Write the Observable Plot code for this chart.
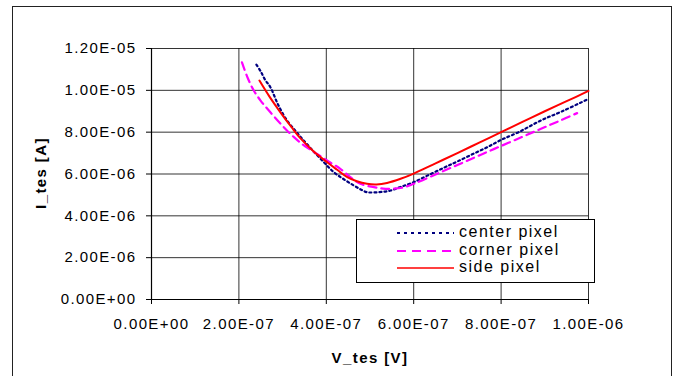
<!DOCTYPE html>
<html>
<head>
<meta charset="utf-8">
<script src="https://cdn.jsdelivr.net/npm/d3@7"></script>
<script src="https://cdn.jsdelivr.net/npm/@observablehq/plot@0.6"></script>
<style>
  html, body { margin: 0; padding: 0; background: #fff; }
  #wrap { position: relative; width: 678px; height: 376px; overflow: hidden; font-family: "Liberation Sans", Arial, sans-serif; }
  #frame { position: absolute; left: 12px; top: 6px; width: 660px; height: 400px; border: 1.5px solid #222; box-sizing: border-box; }
  #chart { position: absolute; left: 0; top: 0; }
  .title { position: absolute; font-weight: bold; font-size: 15px; letter-spacing: 1.4px; color: #000; white-space: nowrap; }
  #legend { position: absolute; left: 356px; top: 219px; width: 239px; height: 64px; border: 1px solid #000; background: #fff; box-sizing: border-box; }
  .lg { position: absolute; left: 102px; font-size: 16px; letter-spacing: 1.5px; line-height: 16px; color: #000; white-space: nowrap; }
</style>
</head>
<body>
<div id="wrap">
  <div id="frame"></div>
  <div id="chart"></div>
  <div class="title" id="ytitle" style="left:40px; top:173px; transform: translate(-50%,-50%) rotate(-90deg);">I_tes [A]</div>
  <div class="title" id="xtitle" style="left:370px; top:357px; transform: translate(-50%,-50%);">V_tes [V]</div>
  <div id="legend"></div>
</div>
<script>
// Tick values and labels
const xTicks = [0, 2e-7, 4e-7, 6e-7, 8e-7, 1e-6];
const xTickLabels = ["0.00E+00", "2.00E-07", "4.00E-07", "6.00E-07", "8.00E-07", "1.00E-06"];
const yTicks = [0, 2e-6, 4e-6, 6e-6, 8e-6, 1e-5, 1.2e-5];
const yTickLabels = ["0.00E+00", "2.00E-06", "4.00E-06", "6.00E-06", "8.00E-06", "1.00E-05", "1.20E-05"];

// Series names
const seriesNames = ["center pixel", "corner pixel", "side pixel"];

// center pixel: V (x1e-7 V), I (x1e-6 A)
const centerV = [2.40, 2.50, 2.60, 2.72, 2.90, 3.10, 3.30, 3.45, 3.70, 3.95, 4.17, 4.40, 4.63, 4.80, 4.93, 5.10, 5.30, 5.47, 5.70, 6.00, 6.30, 6.70, 7.00, 7.38, 7.70, 8.00, 8.40, 8.90, 9.40, 10.0];
const centerI = [11.23, 10.90, 10.50, 10.15, 9.30, 8.56, 8.05, 7.68, 7.10, 6.55, 6.09, 5.75, 5.45, 5.25, 5.13, 5.12, 5.15, 5.21, 5.38, 5.61, 5.91, 6.31, 6.60, 6.98, 7.30, 7.63, 8.00, 8.55, 9.00, 9.59];

// corner pixel
const cornerV = [2.07, 2.20, 2.34, 2.50, 2.72, 3.00, 3.26, 3.50, 3.79, 4.05, 4.32, 4.55, 4.78, 5.09, 5.30, 5.47, 5.75, 6.00, 6.50, 7.00, 7.50, 8.00, 8.50, 8.90, 9.30, 9.74];
const cornerI = [11.34, 10.60, 9.99, 9.50, 8.95, 8.30, 7.76, 7.35, 6.96, 6.60, 6.25, 5.85, 5.53, 5.37, 5.30, 5.29, 5.35, 5.53, 5.98, 6.43, 6.89, 7.34, 7.79, 8.15, 8.51, 8.91];

// side pixel
const sideV = [2.47, 2.70, 2.95, 3.20, 3.41, 3.70, 4.02, 4.25, 4.48, 4.70, 4.93, 5.15, 5.39, 5.70, 6.00, 6.50, 7.00, 7.50, 8.00, 8.50, 9.00, 9.50, 10.0];
const sideI = [10.47, 9.70, 8.95, 8.25, 7.70, 7.10, 6.56, 6.20, 5.85, 5.65, 5.53, 5.50, 5.57, 5.77, 6.02, 6.51, 7.00, 7.50, 8.00, 8.50, 9.00, 9.48, 9.97];

const colors = ["#000080", "#ff00ff", "#ff0000"];
const dashes = ["2,3", "8,5", null];

function toRows(vs, is) { return vs.map((v, k) => ({v: v * 1e-7, i: is[k] * 1e-6})); }
const center = toRows(centerV, centerI);
const corner = toRows(cornerV, cornerI);
const side = toRows(sideV, sideI);

const plot = Plot.plot({
  width: 678,
  height: 376,
  marginLeft: 151,
  marginRight: 90,
  marginTop: 48,
  marginBottom: 77,
  style: {fontFamily: "'Liberation Sans', Arial, sans-serif", fontSize: "15px", color: "#000", background: "transparent", letterSpacing: "1.4px"},
  x: {domain: [0, 1e-6], label: null},
  y: {domain: [0, 1.2e-5], label: null},
  marks: [
    Plot.gridX(xTicks, {stroke: "#000", strokeOpacity: 0.8, strokeWidth: 1}),
    Plot.gridY(yTicks, {stroke: "#000", strokeOpacity: 0.8, strokeWidth: 1}),
    Plot.ruleX([0], {stroke: "#000", strokeWidth: 1.2}),
    Plot.ruleY([0], {stroke: "#000", strokeWidth: 1.2}),
    Plot.axisX(xTicks, {tickSize: 5, tickPadding: 14, tickFormat: (d, i) => xTickLabels[i], label: null, stroke: "#000"}),
    Plot.axisY(yTicks, {tickSize: 5, tickPadding: 10, tickFormat: (d, i) => yTickLabels[i], label: null, stroke: "#000"}),
    Plot.line(center, {x: "v", y: "i", stroke: colors[0], strokeWidth: 2.2, strokeDasharray: dashes[0], curve: "catmull-rom"}),
    Plot.line(corner, {x: "v", y: "i", stroke: colors[1], strokeWidth: 2.2, strokeDasharray: dashes[1], curve: "catmull-rom"}),
    Plot.line(side, {x: "v", y: "i", stroke: colors[2], strokeWidth: 2, curve: "catmull-rom"})
  ]
});
document.getElementById("chart").appendChild(plot);

// Legend
const legend = document.getElementById("legend");
const ys = [13, 31, 48];
seriesNames.forEach((name, k) => {
  const svg = document.createElementNS("http://www.w3.org/2000/svg", "svg");
  svg.setAttribute("width", 60);
  svg.setAttribute("height", 6);
  svg.style.position = "absolute";
  svg.style.left = "40px";
  svg.style.top = (ys[k] - 3) + "px";
  const ln = document.createElementNS("http://www.w3.org/2000/svg", "line");
  ln.setAttribute("x1", 0); ln.setAttribute("x2", 57);
  ln.setAttribute("y1", 3); ln.setAttribute("y2", 3);
  ln.setAttribute("stroke", colors[k]);
  ln.setAttribute("stroke-width", k === 2 ? 1.5 : 2.2);
  if (dashes[k]) ln.setAttribute("stroke-dasharray", k === 0 ? "3,4" : "9,6");
  svg.appendChild(ln);
  legend.appendChild(svg);
  const t = document.createElement("div");
  t.className = "lg";
  t.style.top = (ys[k] - 9) + "px";
  t.textContent = name;
  legend.appendChild(t);
});
</script>
</body>
</html>
